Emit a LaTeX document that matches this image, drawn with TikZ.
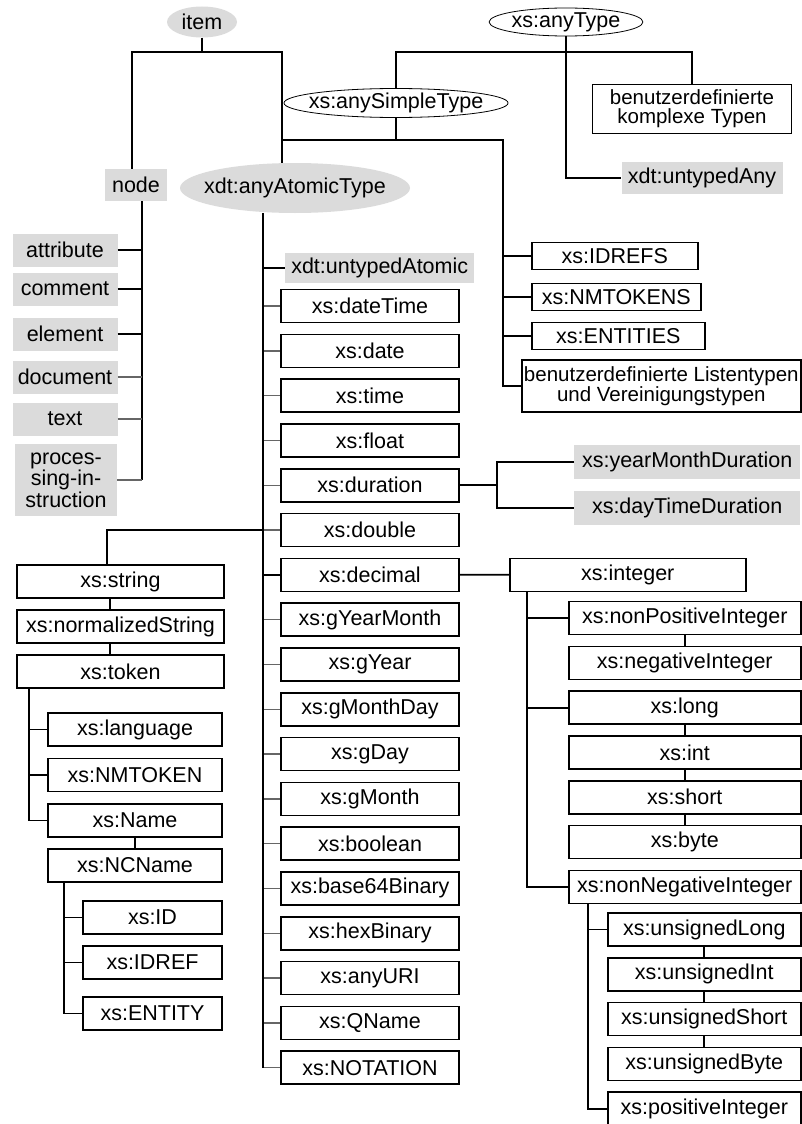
\documentclass[tikz,border=0pt]{standalone}
\usepackage{fontspec}
\setmainfont{Liberation Sans}
\usetikzlibrary{shapes.geometric}

\begin{document}
\begin{tikzpicture}[x=1pt, y=-1pt,
    font=\fontsize{21.5}{21.5}\selectfont,
    tbox/.style={draw, line width=1.6pt, minimum height=33, inner sep=0},
    gbox/.style={fill=black!14, minimum height=32, inner sep=0},
    oval/.style={ellipse, draw, line width=0.8pt, inner sep=0},
    goval/.style={ellipse, fill=black!14, inner sep=0},
    link/.style={line width=1.8pt},
    stub/.style={line width=1.4pt, black!60},
    twoline/.style={align=center, font=\fontsize{20.5}{19}\selectfont}]

  \useasboundingbox (0,0) rectangle (802,1124);

  % ---- top: item, xs:anyType, xs:anySimpleType, xdt:anyAtomicType ----
  \node[goval, minimum width=70, minimum height=31] (item) at (202,22) {item};
  \node[oval, inner ysep=-2pt, minimum height=28] (anyType) at (566,22) {xs:anyType};
  \node[oval, inner xsep=-8pt, inner ysep=-2pt, minimum width=222, minimum height=29]
    (anySimple) at (396,103) {xs:anySimpleType};
  \node[goval, inner xsep=-10pt, minimum width=230, minimum height=50]
    (anyAtomic) at (295,188) {xdt:anyAtomicType};

  \node[gbox, minimum width=62] (nodeT) at (136,185) {node};
  \node[gbox, minimum width=161] (untypedAny) at (702,178) {xdt:untypedAny};
  \node[tbox, twoline, minimum width=199, minimum height=49] (komplex) at (692,109)
    {benutzerdefinierte\\komplexe Typen};

  % ---- item -> node / anyAtomicType ----
  \coordinate (itemL) at (132,52);
  \coordinate (itemR) at (282,52);
  \draw[link] (item) -- (item |- itemL);
  \draw[link] (nodeT.north -| itemL) -- (itemL) -- (itemR) -- (itemR |- anyAtomic.north);

  % ---- anyType -> anySimpleType / komplex / untypedAny ----
  \coordinate (atBar) at (0,52);
  \draw[link] (anyType.south) |- (untypedAny.west);
  \draw[link] (anySimple.north) -- (anySimple.north |- atBar) -| (komplex.north);

  % ---- node kinds ----
  \foreach \lab/\yy in {attribute/250, comment/289, element/334, document/377, text/419} {
    \node[gbox, minimum width=105, minimum height=33] (k-\lab) at (65,\yy) {\lab};
  }
  \node[gbox, align=center, minimum width=102, minimum height=72] (k-proc) at (66,480)
    {proces-\\sing-in-\\struction};
  \coordinate (nk) at (142,0);
  \draw[link] (nodeT.south -| nk) -- (k-proc.east -| nk);
  \foreach \lab in {attribute, comment, element}
    \draw[link] (k-\lab.east) -- (k-\lab.east -| nk);
  \foreach \lab in {document, text, proc}
    \draw[stub] (k-\lab.east) -- (k-\lab.east -| nk);

  % ---- anySimpleType: list types ----
  \foreach \nm/\yy/\ww in {IDREFS/256/166, NMTOKENS/297/169, ENTITIES/336/173} {
    \node[tbox, anchor=west, minimum width=\ww, minimum height=27] (\nm) at (531,\yy) {xs:\nm};
  }
  \node[tbox, twoline, anchor=west, minimum width=279, minimum height=52] (listen) at (521,386)
    {benutzerdefinierte Listentypen\\und Vereinigungstypen};
  \coordinate (lt) at (503,140);
  \draw[link] (anySimple.south) -- (anySimple.south |- lt);
  \draw[link] (itemR |- lt) -- (lt) |- (listen.west);
  \foreach \nm in {IDREFS, NMTOKENS, ENTITIES}
    \draw[link] (\nm.west -| lt) -- (\nm.west);

  % ---- atomic types (middle column) ----
  \coordinate (atrunk) at (263,0);
  \node[gbox, anchor=west, minimum width=189, minimum height=30] (untypedAtomic) at (285,268)
    {xdt:untypedAtomic};
  \foreach \nm [count=\k from 0] in {dateTime, date, time, float, duration, double, decimal,
      gYearMonth, gYear, gMonthDay, gDay, gMonth, boolean, base64Binary, hexBinary,
      anyURI, QName, NOTATION} {
    \pgfmathsetmacro\yy{306+44.8*\k}
    \node[tbox, minimum width=178] (\nm) at (370,\yy) {xs:\nm};
    \draw[stub] (\nm.west -| atrunk) -- (\nm.west);
  }
  \draw[link] (anyAtomic.south -| atrunk) -- (NOTATION.west -| atrunk);
  \draw[link] (untypedAtomic.west -| atrunk) -- (untypedAtomic.west);
  \draw[link] (decimal.west -| atrunk) -- (decimal.west);

  % ---- duration ----
  \coordinate (du) at (497,0);
  \node[gbox, anchor=west, minimum width=226, minimum height=34] (yearMonth) at (574,462)
    {xs:yearMonthDuration};
  \node[gbox, anchor=west, minimum width=226, minimum height=34] (dayTime) at (574,508)
    {xs:dayTimeDuration};
  \draw[link] (duration.east) -- (duration.east -| du);
  \draw[link] (yearMonth.west) -| (du |- dayTime.west) -- (dayTime.west);

  % ---- decimal -> integer ----
  \node[tbox, anchor=west, minimum width=236] (integer) at (509,574.8) {xs:integer};
  \draw[link] (decimal) -- (integer);
  \coordinate (it) at (527,0);
  \foreach \nm [count=\k from 0] in {nonPositiveInteger, negativeInteger, long, int, short,
      byte, nonNegativeInteger} {
    \pgfmathsetmacro\yy{618+44.8*\k}
    \node[tbox, anchor=west, minimum width=232] (\nm) at (568,\yy) {xs:\nm};
  }
  \draw[link] (integer.south -| it) |- (nonNegativeInteger.west);
  \foreach \nm in {nonPositiveInteger, long}
    \draw[link] (\nm.west -| it) -- (\nm.west);
  \draw[link] (nonPositiveInteger) -- (negativeInteger);
  \draw[link] (long) -- (int) -- (short) -- (byte);

  % ---- nonNegativeInteger ----
  \coordinate (nt) at (588,0);
  \foreach \nm [count=\k from 0] in {unsignedLong, unsignedInt, unsignedShort, unsignedByte,
      positiveInteger} {
    \pgfmathsetmacro\yy{929.5+44.8*\k}
    \node[tbox, anchor=west, minimum width=193] (\nm) at (607,\yy) {xs:\nm};
  }
  \draw[link] (nonNegativeInteger.south -| nt) |- (positiveInteger.west);
  \draw[link] (unsignedLong.west -| nt) -- (unsignedLong.west);
  \draw[link] (unsignedLong) -- (unsignedInt) -- (unsignedShort) -- (unsignedByte);

  % ---- string column ----
  \coordinate (sl) at (107,0);
  \coordinate (sc) at (110,0);
  \coordinate (tt) at (29,0);
  \coordinate (nc) at (64,0);
  \foreach \nm/\yy in {string/581.5, normalizedString/626.5, token/671.5}
    \node[tbox, minimum width=207] (\nm) at (120.5,\yy) {xs:\nm};
  \foreach \nm/\yy in {language/729.5, NMTOKEN/775, Name/820.5, NCName/865.5}
    \node[tbox, minimum width=174] (\nm) at (135,\yy) {xs:\nm};
  \foreach \nm/\yy in {ID/917.5, IDREF/962.5, ENTITY/1013.5}
    \node[tbox, minimum width=139] (\nm) at (152.5,\yy) {xs:\nm};
  \draw[link] (double.west -| atrunk) -- (double.west -| sl) -- (sl |- string.north);
  \draw[link] (string.south -| sc) -- (normalizedString.north -| sc);
  \draw[link] (normalizedString.south -| sc) -- (token.north -| sc);
  \draw[link] (token.south -| tt) |- (Name.west);
  \foreach \nm in {language, NMTOKEN}
    \draw[link] (\nm.west -| tt) -- (\nm.west);
  \draw[link] (Name) -- (NCName);
  \draw[link] (NCName.south -| nc) |- (ENTITY.west);
  \foreach \nm in {ID, IDREF}
    \draw[link] (\nm.west -| nc) -- (\nm.west);

\end{tikzpicture}
\end{document}
